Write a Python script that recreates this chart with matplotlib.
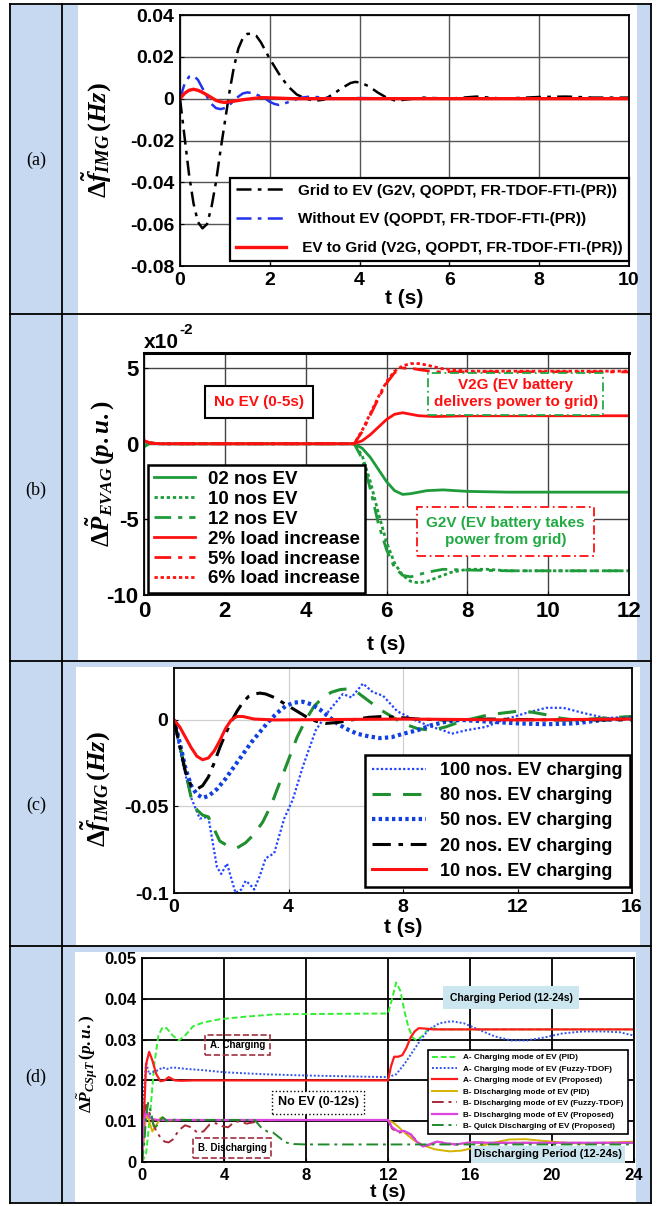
import matplotlib
matplotlib.use('Agg')
import matplotlib.pyplot as plt
from matplotlib.patches import Rectangle

plt.rcParams['font.family'] = ['Liberation Sans Narrow', 'Liberation Sans', 'DejaVu Sans']
plt.rcParams['font.weight'] = 'bold'
plt.rcParams['axes.unicode_minus'] = False
plt.rcParams['mathtext.fontset'] = 'custom'
plt.rcParams['mathtext.rm'] = 'Liberation Serif:bold'
plt.rcParams['mathtext.it'] = 'Liberation Serif:italic:bold'
plt.rcParams['mathtext.bf'] = 'Liberation Serif:bold'

# ---------------- data: panel (a) ----------------
a_t_g2v = [0, 0.1, 0.2, 0.3, 0.4, 0.5, 0.6, 0.7, 0.8, 0.9, 1.0, 1.1, 1.2, 1.3, 1.4, 1.5, 1.6, 1.7, 1.8,
           1.9, 2.0, 2.2, 2.4, 2.6, 2.8, 3.0, 3.2, 3.4, 3.6, 3.8, 3.9, 4.0, 4.2, 4.4, 4.6, 4.8, 5.0,
           5.4, 6.0, 6.6, 7.2, 8.0, 8.6, 9.2, 10]
a_v_g2v = [0, -0.018, -0.036, -0.050, -0.059, -0.062, -0.060, -0.052, -0.040, -0.025, -0.011, 0.003,
           0.015, 0.024, 0.029, 0.031, 0.031, 0.030, 0.027, 0.023, 0.019, 0.012, 0.006, 0.002, 0.0,
           -0.001, -0.0005, 0.002, 0.005, 0.0075, 0.008, 0.0078, 0.006, 0.003, 0.0005, -0.001, -0.0005,
           0.0005, 0.0, 0.001, 0.0, 0.0008, 0.001, 0.0005, 0.0005]
a_t_noev = [0, 0.1, 0.2, 0.3, 0.4, 0.5, 0.6, 0.7, 0.8, 0.9, 1.0, 1.1, 1.2, 1.3, 1.4, 1.5, 1.6, 1.7, 1.8,
            1.9, 2.0, 2.1, 2.2, 2.3, 2.5, 2.7, 2.9, 3.2, 3.5, 4, 5, 6, 7, 8, 9, 10]
a_v_noev = [0, 0.007, 0.0105, 0.011, 0.009, 0.005, 0.001, -0.0025, -0.0045, -0.005, -0.0045, -0.003,
            -0.001, 0.001, 0.0025, 0.003, 0.0027, 0.002, 0.001, 0.0, -0.0015, -0.0025, -0.003, -0.0025,
            -0.001, 0.0005, 0.001, 0.0005, 0, 0.0003, 0, 0, 0, 0, 0, 0]
a_t_v2g = [0, 0.1, 0.2, 0.3, 0.4, 0.5, 0.6, 0.7, 0.8, 0.9, 1.0, 1.2, 1.4, 1.6, 1.8, 2.0, 2.5, 3, 4, 5, 10]
a_v_v2g = [0, 0.0025, 0.004, 0.0045, 0.004, 0.003, 0.0018, 0.0005, -0.0008, -0.0015, -0.0018, -0.0012,
           -0.0005, 0.0, 0.0005, 0.0004, 0.0, 0.0, 0, 0, 0]
a_labels = ['Grid to EV (G2V, QOPDT, FR-TDOF-FTI-(PR))',
            'Without EV (QOPDT, FR-TDOF-FTI-(PR))',
            ' EV to Grid (V2G, QOPDT, FR-TDOF-FTI-(PR))']
a_yticks = [-0.08, -0.06, -0.04, -0.02, 0, 0.02, 0.04]
a_yticklabels = ['-0.08', '-0.06', '-0.04', '-0.02', '0', '0.02', '0.04']
a_xticks = [0, 2, 4, 6, 8, 10]

# ---------------- data: panel (b), values in x10^-2 p.u. ----------------
b_t_ev02 = [0, 0.15, 0.4, 5.0, 5.2, 5.4, 5.6, 5.8, 6.0, 6.2, 6.4, 6.6, 6.8, 7.0, 7.4, 8.0, 9.0, 12]
b_v_ev02 = [-0.2, 0.05, 0, 0, 0, -0.3, -0.9, -1.7, -2.5, -3.1, -3.35, -3.3, -3.2, -3.1, -3.05, -3.15, -3.2, -3.2]
b_t_ev10 = [0, 0.15, 0.4, 5.0, 5.2, 5.4, 5.6, 5.8, 6.0, 6.2, 6.4, 6.6, 6.8, 7.0, 7.3, 7.6, 8.0, 8.5, 9.0, 12]
b_v_ev10 = [-0.2, 0.05, 0, 0, 0, -0.8, -2.5, -4.6, -6.5, -7.9, -8.7, -9.1, -9.2, -9.1, -8.8, -8.5, -8.3, -8.3, -8.4, -8.4]
b_t_ev12 = [0, 0.15, 0.4, 5.0, 5.2, 5.4, 5.6, 5.8, 6.0, 6.2, 6.4, 6.6, 6.8, 7.0, 7.4, 8.0, 9.0, 12]
b_v_ev12 = [-0.15, 0.05, 0, 0, 0, -1.0, -3.0, -5.3, -7.0, -8.2, -8.7, -8.8, -8.65, -8.5, -8.3, -8.35, -8.4, -8.4]
b_t_ld2 = [0, 0.15, 0.4, 5.0, 5.2, 5.4, 5.6, 5.8, 6.0, 6.2, 6.4, 6.6, 6.8, 7.2, 8.0, 9.0, 12]
b_v_ld2 = [0.2, 0.05, 0, 0, 0, 0.2, 0.6, 1.1, 1.6, 1.95, 2.05, 1.95, 1.85, 1.8, 1.85, 1.85, 1.85]
b_t_ld5 = [0, 0.15, 0.4, 5.0, 5.2, 5.4, 5.6, 5.8, 6.0, 6.2, 6.4, 6.6, 6.8, 7.2, 8.0, 12]
b_v_ld5 = [0.2, 0.05, 0, 0, 0, 0.8, 1.9, 3.0, 4.0, 4.7, 5.0, 5.0, 4.9, 4.75, 4.75, 4.75]
b_t_ld6 = [0, 0.15, 0.4, 5.0, 5.2, 5.4, 5.6, 5.8, 6.0, 6.2, 6.4, 6.6, 6.8, 7.0, 7.4, 8.0, 12]
b_v_ld6 = [0.2, 0.05, 0, 0, 0, 0.9, 2.0, 3.1, 4.1, 4.8, 5.15, 5.3, 5.3, 5.2, 4.95, 4.8, 4.8]
b_labels = ['02 nos EV', '10 nos EV', '12 nos EV', '2% load increase', '5% load increase', '6% load increase']
b_yticks = [-10, -5, 0, 5]
b_xticks = [0, 2, 4, 6, 8, 10, 12]

# ---------------- data: panel (c) ----------------
c_t_100 = [0, 0.3, 0.6, 0.9, 1.2, 1.5, 1.65, 1.85, 2.15, 2.35, 2.5, 2.65, 2.8, 3.0, 3.2, 3.5, 3.85, 4.15,
           4.5, 4.95, 5.4, 5.9, 6.2, 6.6, 6.95, 7.3, 7.8, 8.4, 9.0, 9.4, 9.7, 10.2, 10.9, 11.5, 12.3,
           13.0, 13.6, 14.3, 15.1, 16]
c_v_100 = [0, -0.025, -0.045, -0.057, -0.056, -0.085, -0.089, -0.083, -0.100, -0.098, -0.093, -0.095,
           -0.098, -0.090, -0.080, -0.077, -0.057, -0.046, -0.027, -0.006, 0.005, 0.015, 0.013, 0.021,
           0.016, 0.014, 0.005, 0.0, -0.004, -0.006, -0.008, -0.006, -0.004, 0.0, 0.004, 0.007, 0.007,
           0.004, 0.001, 0.002]
c_t_80 = [0, 0.2, 0.4, 0.6, 0.8, 1.0, 1.2, 1.4, 1.6, 1.9, 2.2, 2.5, 2.8, 3.1, 3.4, 3.7, 4.0, 4.3, 4.6,
          4.9, 5.2, 5.5, 5.8, 6.1, 6.4, 6.8, 7.2, 7.6, 8.0, 8.5, 9.0, 9.5, 10, 10.5, 11, 11.5, 12, 12.5,
          13, 13.5, 14, 15, 16]
c_v_80 = [0, -0.014, -0.030, -0.045, -0.052, -0.055, -0.056, -0.063, -0.070, -0.073, -0.074, -0.071,
          -0.066, -0.059, -0.049, -0.036, -0.023, -0.010, 0.000, 0.008, 0.013, 0.016, 0.0175, 0.018,
          0.016, 0.011, 0.006, 0.002, -0.002, -0.005, -0.006, -0.004, -0.001, 0.001, 0.003, 0.004,
          0.005, 0.0045, 0.003, 0.001, 0.0, 0.001, 0.002]
c_t_50 = [0, 0.2, 0.4, 0.6, 0.8, 1.0, 1.2, 1.5, 1.8, 2.1, 2.4, 2.7, 3.0, 3.3, 3.6, 3.9, 4.2, 4.5, 4.8,
          5.1, 5.4, 5.7, 6.0, 6.4, 6.8, 7.2, 7.6, 8.0, 8.5, 9.0, 9.5, 10, 11, 12, 13, 14, 15, 16]
c_v_50 = [0, -0.013, -0.028, -0.038, -0.043, -0.045, -0.044, -0.040, -0.034, -0.027, -0.020, -0.013,
          -0.007, -0.001, 0.004, 0.008, 0.010, 0.0105, 0.009, 0.006, 0.002, -0.002, -0.005, -0.008,
          -0.0095, -0.0105, -0.010, -0.008, -0.006, -0.003, -0.001, 0.0, -0.001, -0.002, -0.0025,
          -0.002, 0.0, 0.001]
c_t_20 = [0, 0.2, 0.4, 0.6, 0.8, 1.0, 1.2, 1.4, 1.6, 1.8, 2.0, 2.2, 2.4, 2.6, 2.8, 3.0, 3.2, 3.5, 3.8,
          4.1, 4.4, 4.7, 5.0, 5.3, 5.7, 6.2, 6.8, 7.3, 7.8, 8.5, 9.5, 11, 13, 16]
c_v_20 = [0, -0.015, -0.030, -0.038, -0.040, -0.038, -0.033, -0.025, -0.016, -0.008, -0.001, 0.005,
          0.010, 0.0135, 0.015, 0.0155, 0.015, 0.013, 0.010, 0.007, 0.004, 0.001, -0.001, -0.002,
          -0.0015, 0.0, 0.0015, 0.002, 0.0015, 0.0005, 0.0, 0.0005, 0.0, 0.0]
c_t_10 = [0, 0.2, 0.4, 0.6, 0.8, 1.0, 1.2, 1.4, 1.6, 1.8, 2.0, 2.2, 2.4, 2.8, 3.5, 8, 12, 16]
c_v_10 = [0, -0.004, -0.010, -0.016, -0.021, -0.023, -0.022, -0.018, -0.012, -0.005, 0.0, 0.002,
          0.002, 0.0005, 0, 0.0005, 0, 0.0005]
c_labels = ['100 nos. EV charging', '80 nos. EV charging', '50 nos. EV charging',
            '20 nos. EV charging', '10 nos. EV charging']
c_yticks = [-0.1, -0.05, 0]
c_yticklabels = ['-0.1', '-0.05', '0']
c_xticks = [0, 4, 8, 12, 16]

# ---------------- data: panel (d) ----------------
d_t_apid = [0, 0.2, 0.4, 0.6, 0.8, 1.0, 1.2, 1.5, 1.8, 2.1, 2.5, 3.0, 3.8, 5.0, 6.5, 9.0, 12.0, 12.2,
            12.4, 12.6, 12.8, 13.0, 13.2, 13.4, 13.7, 14.0, 14.5, 15.5, 24]
d_v_apid = [0, 0.002, 0.012, 0.024, 0.031, 0.033, 0.0328, 0.031, 0.0298, 0.031, 0.0333, 0.0342, 0.035,
            0.0356, 0.0362, 0.0363, 0.0364, 0.040, 0.044, 0.042, 0.037, 0.033, 0.0305, 0.0298, 0.031,
            0.0329, 0.0325, 0.0325, 0.0325]
d_t_afuz = [0, 0.1, 0.2, 0.35, 0.5, 0.8, 1.0, 1.2, 1.5, 1.8, 2.2, 3, 4, 6, 8, 10, 12.0, 12.4, 12.8,
            13.2, 13.6, 14.0, 14.5, 15.1, 15.7, 16.4, 17.2, 18.0, 18.8, 19.6, 20.5, 21.5, 22.5, 23.3, 24]
d_v_afuz = [0.0, 0.018, 0.0245, 0.0215, 0.022, 0.0225, 0.0232, 0.0228, 0.0232, 0.0230, 0.0228, 0.0225,
            0.022, 0.0215, 0.0212, 0.021, 0.0208, 0.0215, 0.024, 0.027, 0.030, 0.0325, 0.034, 0.0345,
            0.034, 0.0325, 0.0308, 0.0298, 0.0298, 0.0305, 0.0315, 0.032, 0.032, 0.0318, 0.031]
d_t_aprop = [0, 0.1, 0.2, 0.35, 0.5, 0.7, 0.9, 1.1, 1.3, 1.6, 1.9, 2.5, 12.0, 12.15, 12.3, 12.5, 12.7,
             12.9, 13.1, 13.3, 13.5, 13.8, 14.2, 24]
d_v_aprop = [0, 0.012, 0.024, 0.027, 0.025, 0.0215, 0.0198, 0.0200, 0.0208, 0.0200, 0.0199, 0.0200,
             0.0200, 0.0235, 0.0258, 0.0258, 0.0262, 0.028, 0.0305, 0.032, 0.0328, 0.0327, 0.0325, 0.0325]
d_t_bpid = [0, 0.1, 0.2, 0.35, 0.5, 0.7, 0.9, 1.2, 2, 12.0, 12.3, 12.6, 12.9, 13.3, 13.7, 14.3, 15.0,
            15.6, 16.2, 17.0, 17.9, 18.7, 19.5, 20.5, 21.4, 22.5, 24]
d_v_bpid = [0, 0.006, 0.012, 0.010, 0.0075, 0.009, 0.0108, 0.0102, 0.0103, 0.0103, 0.0095, 0.0082,
            0.0068, 0.0052, 0.0041, 0.0031, 0.0026, 0.0028, 0.0035, 0.0046, 0.0055, 0.0056, 0.0052,
            0.0048, 0.0045, 0.0047, 0.005]
d_t_bfuz = [0, 0.1, 0.2, 0.3, 0.5, 0.7, 0.9, 1.1, 1.3, 1.5, 1.8, 2.1, 2.4, 2.7, 3.0, 3.3, 3.6, 3.9, 4.2,
            4.5, 4.8, 5.1, 5.5, 6.0, 7, 12.0, 12.2, 12.5, 12.8, 13.1, 13.4, 13.7, 14.0, 14.4, 14.8,
            15.3, 16, 17, 24]
d_v_bfuz = [0, 0.008, 0.014, 0.013, 0.010, 0.0075, 0.006, 0.005, 0.0048, 0.0055, 0.0078, 0.009, 0.0085,
            0.0072, 0.0075, 0.0092, 0.0095, 0.0088, 0.0085, 0.0098, 0.0100, 0.0094, 0.0098, 0.0102,
            0.0103, 0.0103, 0.0082, 0.0072, 0.0074, 0.0068, 0.0052, 0.0038, 0.0042, 0.0050, 0.0046,
            0.0043, 0.0048, 0.0047, 0.0047]
d_t_bprop = [0, 0.1, 0.2, 0.35, 0.5, 0.8, 1.2, 12.0, 12.2, 12.5, 12.8, 13.1, 13.4, 13.7, 14.0, 14.4,
             14.8, 15.3, 16, 17, 24]
d_v_bprop = [0, 0.010, 0.0125, 0.011, 0.0105, 0.0103, 0.0103, 0.0103, 0.0085, 0.0075, 0.0076, 0.0068,
             0.0050, 0.0038, 0.0043, 0.0050, 0.0046, 0.0043, 0.0048, 0.0047, 0.0047]
d_t_bquick = [0, 0.1, 0.2, 0.3, 0.45, 0.6, 0.8, 1.0, 1.3, 1.6, 2.0, 3, 5.5, 5.8, 6.1, 6.4, 6.7, 7.0,
              7.4, 8.0, 12.0, 24]
d_v_bquick = [0, 0.004, 0.011, 0.0145, 0.012, 0.008, 0.0095, 0.011, 0.0098, 0.0104, 0.0103, 0.0103,
              0.0103, 0.0085, 0.0075, 0.0072, 0.0060, 0.0048, 0.0044, 0.0043, 0.0043, 0.0043]
d_labels = ['A- Charging mode of EV (PID)', 'A- Charging mode of EV (Fuzzy-TDOF)',
            'A- Charging mode of EV (Proposed)', 'B- Discharging mode of EV (PID)',
            'B- Discharging mode of EV (Fuzzy-TDOF)', 'B- Discharging mode of EV (Proposed)',
            'B- Quick Discharging of EV (Proposed)']
d_yticks = [0, 0.01, 0.02, 0.03, 0.04, 0.05]
d_yticklabels = ['0', '0.01', '0.02', '0.03', '0.04', '0.05']
d_xticks = [0, 4, 8, 12, 16, 20, 24]

W, H = 660, 1206
BLUE = '#c6d9f0'
DASHDOT = (0, (6, 2.5, 1.5, 2.5))


def box(x0, y0, x1, y1):
    return [x0 / W, 1 - y1 / H, (x1 - x0) / W, (y1 - y0) / H]


fig = plt.figure(figsize=(W / 100, H / 100), dpi=100)

# table background
bg = fig.add_axes([0, 0, 1, 1])
bg.set_xlim(0, W)
bg.set_ylim(H, 0)
bg.axis('off')
bg.add_patch(Rectangle((10, 4), 641, 1199, facecolor=BLUE, edgecolor='none'))
for x0, y0, x1, y1 in [(78, 5, 637, 314), (78, 315, 637, 660), (76, 667, 640, 946), (75, 952, 636, 1202)]:
    bg.add_patch(Rectangle((x0, y0), x1 - x0, y1 - y0, facecolor='white', edgecolor='none'))
for y in [4, 314, 661, 946, 1203]:
    bg.plot([10, 651], [y, y], color='black', lw=1.3)
for x in [10, 62, 651]:
    bg.plot([x, x], [4, 1203], color='black', lw=1.3)
for lab, y in [('(a)', 160), ('(b)', 490), ('(c)', 805), ('(d)', 1077)]:
    bg.text(36, y, lab, ha='center', va='center', fontsize=13, fontweight='normal',
            family='Liberation Serif')


def style(ax, fs, gridc, gridlw):
    ax.grid(True, color=gridc, lw=gridlw)
    ax.set_axisbelow(True)
    ax.tick_params(direction='in', length=3, labelsize=fs, pad=4)
    for s in ax.spines.values():
        s.set_linewidth(1.3)
    for lab in ax.get_xticklabels() + ax.get_yticklabels():
        lab.set_fontweight('bold')


# ---------------- panel (a) ----------------
ax = fig.add_axes(box(180, 15, 629, 266))
ax.plot(a_t_g2v, a_v_g2v, color='black', lw=1.8, ls=DASHDOT, label=a_labels[0])
ax.plot(a_t_noev, a_v_noev, color='#2233ee', lw=1.8, ls=DASHDOT, label=a_labels[1])
ax.plot(a_t_v2g, a_v_v2g, color='#ff1010', lw=2.4, label=a_labels[2])
ax.set_xlim(0, 10)
ax.set_ylim(-0.08, 0.04)
ax.set_xticks(a_xticks)
ax.set_yticks(a_yticks)
ax.set_yticklabels(a_yticklabels)
style(ax, 14, '#555555', 1.0)
ax.set_xlabel('t (s)', fontsize=15, fontweight='bold', labelpad=0)
ax.set_ylabel(r'$\Delta\tilde{f}_{IMG}\,(Hz)$', fontsize=19)
ax.yaxis.set_label_coords(-0.147, 0.5)
leg = ax.legend(loc='lower right', bbox_to_anchor=(1.0, 0.02), fontsize=11, handlelength=3.3,
                borderaxespad=0, fancybox=False, framealpha=1, edgecolor='black', labelspacing=0.95)
leg.get_frame().set_linewidth(1.6)

# ---------------- panel (b) ----------------
ax = fig.add_axes(box(144, 353, 629, 595))
GREEN = '#1e9b3a'
RED = '#ff1010'
ax.plot(b_t_ev02, b_v_ev02, color=GREEN, lw=2.0, label=b_labels[0])
ax.plot(b_t_ev10, b_v_ev10, color=GREEN, lw=2.0, ls=(0, (1.2, 1.0)), label=b_labels[1])
ax.plot(b_t_ev12, b_v_ev12, color=GREEN, lw=2.0, ls=DASHDOT, label=b_labels[2])
ax.plot(b_t_ld2, b_v_ld2, color=RED, lw=2.0, label=b_labels[3])
ax.plot(b_t_ld5, b_v_ld5, color=RED, lw=2.0, ls=DASHDOT, label=b_labels[4])
ax.plot(b_t_ld6, b_v_ld6, color=RED, lw=2.0, ls=(0, (1.2, 1.0)), label=b_labels[5])
ax.set_xlim(0, 12)
ax.set_ylim(-10, 6)
ax.set_xticks(b_xticks)
ax.set_yticks(b_yticks)
style(ax, 16, '#444444', 1.0)
ax.spines['top'].set_linewidth(2.2)
ax.set_xlabel('t (s)', fontsize=15, fontweight='bold', labelpad=10)
ax.set_ylabel(r'$\Delta\tilde{P}_{EVAG}\,(p.u.)$', fontsize=18)
ax.yaxis.set_label_coords(-0.058, 0.5)
ax.text(0.0, 1.005, 'x10', transform=ax.transAxes, fontsize=15, fontweight='bold', va='bottom')
ax.text(0.072, 1.065, '-2', transform=ax.transAxes, fontsize=11, fontweight='bold', va='bottom')
ax.text(2.85, 2.75, 'No EV (0-5s)', color=RED, fontsize=11, ha='center', va='center',
        bbox=dict(boxstyle='square,pad=0.6', facecolor='white', edgecolor='black', lw=1.5))
ax.text(9.2, 3.3, 'V2G (EV battery\ndelivers power to grid)', color=RED, fontsize=11, ha='center',
        va='center', linespacing=1.3,
        bbox=dict(boxstyle='square,pad=0.35', facecolor='white', edgecolor='#22aa44', lw=1.3,
                  ls=(0, (5, 2, 1, 2))))
ax.text(8.95, -5.8, 'G2V (EV battery takes\npower from grid)', color='#22aa44', fontsize=11, ha='center',
        va='center', linespacing=1.3,
        bbox=dict(boxstyle='square,pad=0.6', facecolor='white', edgecolor=RED, lw=1.3,
                  ls=(0, (5, 2, 1, 2))))
leg = ax.legend(loc='lower left', bbox_to_anchor=(0.008, 0.008), fontsize=13.5, handlelength=2.2,
                borderaxespad=0, fancybox=False, framealpha=1, edgecolor='black', labelspacing=0.15,
                borderpad=0.3, handletextpad=0.7)
leg.get_frame().set_linewidth(1.8)

# ---------------- panel (c) ----------------
ax = fig.add_axes(box(174, 668, 632, 893))
ax.plot(c_t_100, c_v_100, color='#2244ff', lw=1.6, ls=(0, (1, 1)), label=c_labels[0])
ax.plot(c_t_80, c_v_80, color='#1f8f2f', lw=2.2, ls=(0, (6, 4)), label=c_labels[1])
ax.plot(c_t_50, c_v_50, color='#1040e0', lw=3.0, ls=(0, (0.8, 0.8)), label=c_labels[2])
ax.plot(c_t_20, c_v_20, color='black', lw=2.2, ls=DASHDOT, label=c_labels[3])
ax.plot(c_t_10, c_v_10, color=RED, lw=2.2, label=c_labels[4])
ax.set_xlim(0, 16)
ax.set_ylim(-0.1, 0.03)
ax.set_xticks(c_xticks)
ax.set_yticks(c_yticks)
ax.set_yticklabels(c_yticklabels)
style(ax, 14, '#d0d0d0', 0.9)
ax.set_xlabel('t (s)', fontsize=15, fontweight='bold', labelpad=2)
ax.set_ylabel(r'$\Delta\tilde{f}_{IMG}\,(Hz)$', fontsize=19)
ax.yaxis.set_label_coords(-0.133, 0.46)
leg = ax.legend(loc='lower right', bbox_to_anchor=(0.996, 0.027), fontsize=13, handlelength=3.0,
                borderaxespad=0, fancybox=False, framealpha=1, edgecolor='black', labelspacing=0.45,
                borderpad=0.4)
leg.get_frame().set_linewidth(1.8)

# ---------------- panel (d) ----------------
ax = fig.add_axes(box(142, 958, 634, 1162))
ax.plot(d_t_apid, d_v_apid, color='#33ee33', lw=1.4, ls=(0, (3, 1.5)), label=d_labels[0])
ax.plot(d_t_afuz, d_v_afuz, color='#3355ee', lw=1.4, ls=(0, (1, 1)), label=d_labels[1])
ax.plot(d_t_aprop, d_v_aprop, color='#ff1a1a', lw=1.6, label=d_labels[2])
ax.plot(d_t_bpid, d_v_bpid, color='#d4b400', lw=1.4, label=d_labels[3])
ax.plot(d_t_bfuz, d_v_bfuz, color='#a52a3a', lw=1.4, ls=DASHDOT, label=d_labels[4])
ax.plot(d_t_bprop, d_v_bprop, color='#dd44dd', lw=1.6, label=d_labels[5])
ax.plot(d_t_bquick, d_v_bquick, color='#1f8a2a', lw=1.4, ls=DASHDOT, label=d_labels[6])
ax.set_xlim(0, 24)
ax.set_ylim(0, 0.05)
ax.set_xticks(d_xticks)
ax.set_yticks(d_yticks)
ax.set_yticklabels(d_yticklabels)
style(ax, 12, 'black', 1.3)
ax.set_xlabel('t (s)', fontsize=14, fontweight='bold', labelpad=1)
ax.set_ylabel(r'$\Delta\tilde{P}_{CS\mu T}\,(p.u.)$', fontsize=12.5)
ax.yaxis.set_label_coords(-0.085, 0.48)
ax.text(18.0, 0.0403, 'Charging Period (12-24s)', fontsize=7.5, ha='center', va='center', zorder=5,
        bbox=dict(boxstyle='square,pad=0.6', facecolor='#cbe6ee', edgecolor='none'))
ax.text(19.8, 0.0019, 'Discharging Period (12-24s)', fontsize=8, ha='center', va='center', zorder=5,
        bbox=dict(boxstyle='square,pad=0.3', facecolor='#cbe6ee', edgecolor='none'))
ax.text(4.65, 0.0287, 'A. Charging', fontsize=7, ha='center', va='center', zorder=5,
        bbox=dict(boxstyle='square,pad=0.5', facecolor='none', edgecolor='#a03040', lw=1.2, ls='--'))
ax.text(4.4, 0.0035, 'B. Discharging', fontsize=7, ha='center', va='center', zorder=5,
        bbox=dict(boxstyle='square,pad=0.5', facecolor='none', edgecolor='#a03040', lw=1.2, ls='--'))
ax.text(8.6, 0.0146, 'No EV (0-12s)', fontsize=9, ha='center', va='center', zorder=5,
        bbox=dict(boxstyle='square,pad=0.45', facecolor='white', edgecolor='black', lw=1.0, ls=':'))
leg = ax.legend(loc='lower right', bbox_to_anchor=(0.988, 0.137), fontsize=5.9, handlelength=3.0,
                borderaxespad=0, fancybox=False, framealpha=1, edgecolor='black', labelspacing=0.45,
                borderpad=0.5)
leg.get_frame().set_linewidth(1.2)
leg.set_zorder(6)

fig.savefig('out.png', dpi=100)
